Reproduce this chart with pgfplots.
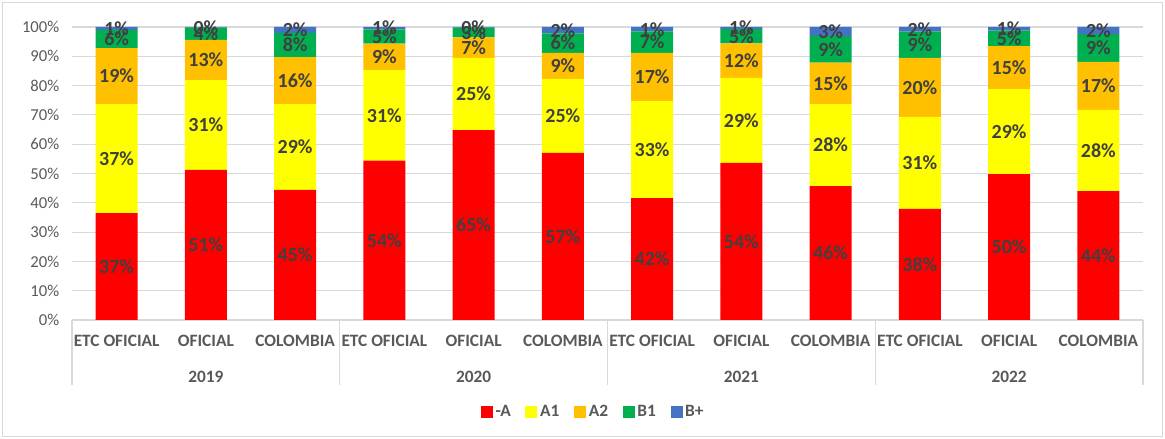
\documentclass[border=0pt]{standalone}
\usepackage{pgfplots}
\pgfplotsset{compat=1.18}
\usepackage{pgfplotstable}
\usepackage{fontspec}
\setmainfont{Carlito}
\definecolor{cA}{HTML}{FF0000}
\definecolor{cB}{HTML}{FFFF00}
\definecolor{cC}{HTML}{FFC000}
\definecolor{cD}{HTML}{00B050}
\definecolor{cE}{HTML}{4472C4}
\definecolor{gridc}{HTML}{D9D9D9}
\definecolor{txt}{HTML}{595959}
\definecolor{lab}{HTML}{404040}

\pgfplotstableread{
x a b c d e la lb lc ld le
0 36.5 37.2 19.1 6.2 1.0 37 37 19 6 1
1 51.2 30.7 13.7 4.2 0.2 51 31 13 4 0
2 44.4 29.3 16.0 8.3 2.0 45 29 16 8 2
3 54.4 30.9 9.0 4.9 0.8 54 31 9 5 1
4 64.8 24.7 7.0 3.3 0.2 65 25 7 3 0
5 57.0 25.3 8.9 6.6 2.2 57 25 9 6 2
6 41.6 33.1 16.5 7.3 1.5 42 33 17 7 1
7 53.6 29.0 11.8 4.9 0.7 54 29 12 5 1
8 45.7 28.0 14.1 9.2 3.0 46 28 15 9 3
9 37.9 31.4 20.2 8.9 1.6 38 31 20 9 2
10 49.8 29.0 14.7 5.3 1.2 50 29 15 5 1
11 44.0 27.7 16.4 9.5 2.4 44 28 17 9 2
}\data

\begin{document}
\begin{tikzpicture}
\begin{axis}[
  at={(0,0)}, anchor=south west,
  scale only axis, width=803.25pt, height=219.75pt,
  ybar stacked, bar width=31.5pt,
  xmin=-0.5, xmax=11.5, ymin=0, ymax=100,
  xtick={0,...,11},
  xticklabels={ETC OFICIAL,OFICIAL,COLOMBIA,ETC OFICIAL,OFICIAL,COLOMBIA,ETC OFICIAL,OFICIAL,COLOMBIA,ETC OFICIAL,OFICIAL,COLOMBIA},
  ytick={0,10,...,100},
  yticklabel={\pgfmathprintnumber{\tick}\%},
  /pgf/number format/assume math mode=true,
  axis line style={draw=none},
  major tick length=0pt,
  ymajorgrids, grid style={draw=gridc, line width=0.8pt},
  clip=false,
  yticklabel style={font=\fontsize{12.5}{14}\selectfont, text=txt, anchor=east, xshift=-6pt},
  xticklabel style={font=\fontsize{13}{15}\bfseries\selectfont, text=txt, anchor=base, yshift=-20pt},
  point meta=explicit,
  nodes near coords={\pgfmathprintnumber{\pgfplotspointmeta}\%},
  every node near coord/.append style={font=\fontsize{15}{17}\bfseries\selectfont, text=lab, anchor=center},
  legend style={at={(0.487,-0.314)}, anchor=center, legend columns=-1, draw=none, font=\fontsize{13}{15}\bfseries\selectfont, text=txt,
    /tikz/every even column/.append style={column sep=9pt}},
  legend image code/.code={\fill[#1] (0pt,-4.5pt) rectangle (9pt,4.5pt);},
]
\addplot[fill=cA, draw=none] table[x=x, y=a, meta=la] {\data};
\addplot[fill=cB, draw=none] table[x=x, y=b, meta=lb] {\data};
\addplot[fill=cC, draw=none] table[x=x, y=c, meta=lc] {\data};
\addplot[fill=cD, draw=none] table[x=x, y=d, meta=ld] {\data};
\addplot[fill=cE, draw=none] table[x=x, y=e, meta=le] {\data};
\legend{-A,A1,A2,B1,B+}
\foreach \s in {-0.5,2.5,5.5,8.5,11.5}{
  \edef\temp{\noexpand\draw[gridc, line width=0.8pt] (axis cs:\s,0) -- ([yshift=-48.75pt]axis cs:\s,0);}
  \temp
}
\node[anchor=base, yshift=-47pt, font=\fontsize{13}{15}\bfseries\selectfont, text=txt] at (axis cs:1,0) {2019};
\node[anchor=base, yshift=-47pt, font=\fontsize{13}{15}\bfseries\selectfont, text=txt] at (axis cs:4,0) {2020};
\node[anchor=base, yshift=-47pt, font=\fontsize{13}{15}\bfseries\selectfont, text=txt] at (axis cs:7,0) {2021};
\node[anchor=base, yshift=-47pt, font=\fontsize{13}{15}\bfseries\selectfont, text=txt] at (axis cs:10,0) {2022};
\end{axis}
\pgfresetboundingbox
\useasboundingbox (-54pt,-89.25pt) rectangle (819.75pt,240pt);
\draw[gridc, line width=0.8pt] (-52pt,-87.25pt) rectangle (817.75pt,238pt);
\end{tikzpicture}
\end{document}
